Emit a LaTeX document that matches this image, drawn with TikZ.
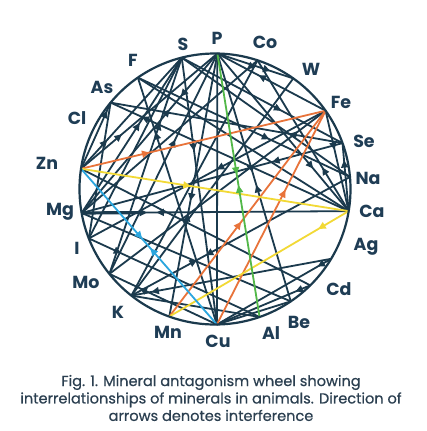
\documentclass[tikz,border=0pt]{standalone}
\usepackage{fontspec}
\setmainfont{Poppins}
\newfontfamily\capfont[FakeBold=0.6]{Poppins}
\usetikzlibrary{arrows.meta,decorations.markings,calc}
\definecolor{navy}{HTML}{1B3A4D}
\definecolor{labc}{HTML}{1F3D55}
\definecolor{capc}{HTML}{2B3F50}
\definecolor{cOr}{HTML}{E8733A}
\definecolor{cYe}{HTML}{F2D935}
\definecolor{cGr}{HTML}{52B848}
\definecolor{cBl}{HTML}{2BA6DE}
\definecolor{bgA}{HTML}{D8E6F5}
\definecolor{bgB}{HTML}{B3CDEB}
\pgfdeclareradialshading{bgglow}{\pgfpoint{0bp}{0bp}}{color(0bp)=(white); color(36bp)=(white); color(48bp)=(bgA); color(60bp)=(bgB); color(75bp)=(bgB)}
\newcommand\elpt[2]{\coordinate (#1) at ({215+135.5*cos(#2)},{189-135.5*sin(#2)});}
\tikzset{
  mytip/.tip={Triangle[length=7.5bp,width=7bp]},
  nv/.style={color=navy, line width=1.8bp},
  orc/.style={color=cOr, line width=1.8bp},
  yel/.style={color=cYe, line width=1.8bp},
  grn/.style={color=cGr, line width=1.8bp},
  blu/.style={color=cBl, line width=1.8bp},
  arr/.style={postaction={decorate}, decoration={markings, mark=at position #1 with {\arrow{mytip}}}},
  darr/.style 2 args={postaction={decorate}, decoration={markings, mark=at position #1 with {\arrow{mytip}}, mark=at position #2 with {\arrowreversed{mytip}}}},
  lab/.style={text=labc, font=\fontsize{17.5}{20}\selectfont\bfseries, inner sep=0pt},
}
\begin{document}
\begin{tikzpicture}[x=1bp,y=-1bp]
\useasboundingbox (0,0) rectangle (427,431);
\begin{scope}
  \clip (14,0) rectangle (411,367);
  \shade[shading=bgglow] (14,-60) rectangle (411,367);
\end{scope}
\coordinate (C) at (215,189);
\elpt{P}{89}
\elpt{Co}{71.7}
\elpt{W}{54.7}
\elpt{Fe}{35.3}
\elpt{Se}{19.8}
\elpt{Na}{5.1}
\elpt{Ca}{-9.4}
\elpt{Ag}{-31}
\elpt{Cd}{-45.3}
\elpt{Be}{-56}
\elpt{Al}{-70.8}
\elpt{Cu}{-89.2}
\elpt{Mn}{-109.7}
\elpt{K}{-128.1}
\elpt{Mo}{-141.2}
\elpt{I}{-158.6}
\elpt{Mg}{-169.8}
\elpt{Zn}{171.4}
\elpt{Cl}{150.6}
\elpt{As}{140.4}
\elpt{F}{124.7}
\elpt{S}{104.2}
% navy chords
\draw[nv] (P) -- (Cu);
\draw[nv, arr=0.62] (Fe) -- (P);
\draw[nv, arr=0.7] (P) -- (W);
\draw[nv, arr=0.06] (Co) -- (Mg);
\draw[nv, darr={0.27}{0.35}] (P) -- (Mg);
\draw[nv, arr=0.23] (Se) -- (As);
\draw[nv, arr=0.87] (Ca) -- (As);
\draw[nv, arr=0.62] (F) -- (Na);
\draw[nv, arr=0.62] (S) -- (Se);
\draw[nv, arr=0.39] (Fe) -- (Ca);
\draw[nv, arr=0.75] (Ca) -- (Se);
\draw[nv, arr=0.73] (P) -- (Ca);
\draw[nv, arr=0.29] (Ca) -- (Co);
\draw[nv, darr={0.66}{0.70}] (Na) -- (K);
\draw[nv, darr={0.245}{0.28}] (Mg) -- (Ca);
\draw[nv, line width=3.2bp] (Mg) -- ($(Mg)!0.235!(Ca)$);
\draw[nv, arr=0.12] (Ag) -- (Cu);
\draw[nv, arr=0.16] (Cd) -- (Cu);
\draw[nv, arr=0.26] (Zn) -- (S);
\draw[nv, arr=0.30] (Zn) -- (P);
\draw[nv, arr=0.88] (Zn) -- (As);
\draw[nv, arr=0.27] (Se) -- (Mg);
\draw[nv, darr={0.48}{0.53}] (P) -- (Be);
\draw[nv, arr=0.70] (Mo) -- (S);
\draw[nv, arr=0.61] (Mo) -- (P);
\draw[nv, darr={0.56}{0.61}] (P) -- (Mn);
\draw[nv, arr=0.35] (S) -- (Cu);
\draw[nv, arr=0.78] (Cu) -- (F);
\draw[nv, arr=0.58] (Mg) -- (S);
\draw[nv, arr=0.46] (Fe) -- (I);
\draw[nv] (Mg) -- (Be);
\draw[nv] (Zn) -- (Cd);
\draw[nv, arr=0.19] (I) -- (Al);
\draw[nv, arr=0.9] (Ag) -- (K);
\draw[nv] (Mo) -- (Fe);
\draw[nv] (K) -- (Co);
\draw[nv] (I) -- (S);
\draw[nv] (F) -- (Ca);
\draw[nv] (S) -- (Na);
\draw[nv] (W) -- (K);
\draw[nv, arr=0.72] (Cu) -- (Mo);
\draw[nv] (Cu) -- (Be);
\draw[nv] (K) -- (Al);
\draw[nv] (I) -- (As);
% coloured chords
\draw[orc, arr=0.28] (Zn) -- (Fe);
\draw[orc, arr=0.46] (Mn) -- (Fe);
\draw[orc, arr=0.63] (Cu) -- (Fe);
\draw[yel, arr=0.41] (Zn) -- (Ca);
\draw[yel, arr=0.17] (Ca) -- (Mn);
\draw[grn, darr={0.46}{0.50}] (P) -- (Al);
\draw[blu, darr={0.45}{0.51}] (Zn) -- (Cu);
% wheel
\draw[navy, line width=2.2bp] (C) circle [radius=135.5bp];
% labels
\node[lab] (lP) at (217,38) {P};
\node[lab] (lS) at (183,44) {S};
\node[lab] (lCo) at (265,42) {Co};
\node[lab] (lW) at (311,69) {W};
\node[lab] (lFe) at (341,102) {Fe};
\node[lab] (lSe) at (364,141) {Se};
\node[lab] (lNa) at (368,178) {Na};
\node[lab] (lCa) at (372,211) {Ca};
\node[lab] (lAg) at (366,247) {Ag};
\node[lab] (lCd) at (339,289) {Cd};
\node[lab] (lBe) at (299,322) {Be};
\node[lab] (lAl) at (271,333) {Al};
\node[lab] (lCu) at (218,341) {Cu};
\node[lab] (lMn) at (168,332) {Mn};
\node[lab] (lK) at (118,312) {K};
\node[lab] (lMo) at (86,282) {Mo};
\node[lab] (lI) at (77,248) {I};
\node[lab] (lMg) at (60,212) {Mg};
\node[lab] (lZn) at (47,163) {Zn};
\node[lab] (lCl) at (77,118) {Cl};
\node[lab] (lAs) at (102,87) {As};
\node[lab] (lF) at (133,60) {F};
% caption
\node[text=capc, font=\capfont\fontsize{14.6}{17.5}\selectfont, align=center, inner sep=0pt] (cap) at (211,398)
  {Fig. 1. Mineral antagonism wheel showing\\interrelationships of minerals in animals. Direction of\\arrows denotes interference};
\end{tikzpicture}
\end{document}
